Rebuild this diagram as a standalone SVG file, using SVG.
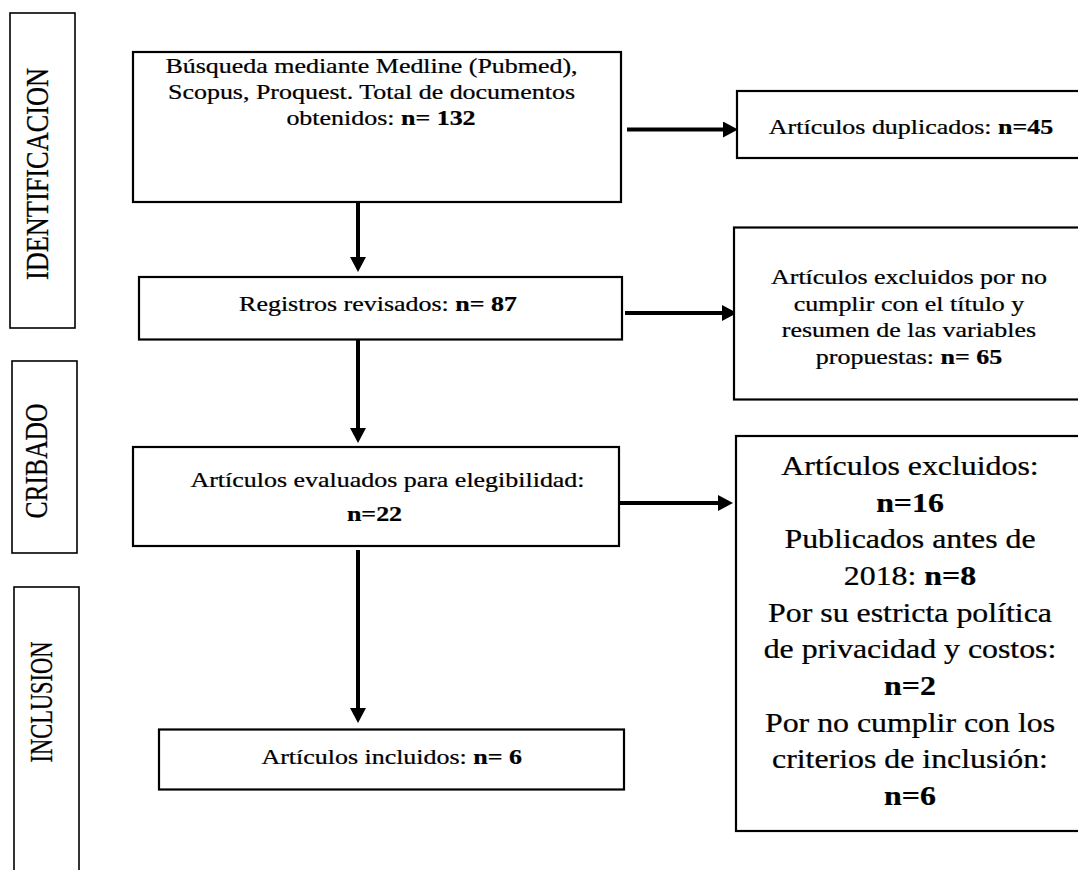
<svg xmlns="http://www.w3.org/2000/svg" width="1078" height="870" viewBox="0 0 1078 870">
  <style>
    text { fill: #000; stroke: #000; stroke-width: 0.25; text-anchor: middle; }
    .s { font-size: 22px; }
    .l { font-size: 27px; }
    .side { font-size: 26px; }
    .b { font-weight: bold; }
    .box { fill: #fff; stroke: #000; stroke-width: 2.2; }
    .sbox { fill: #fff; stroke: #000; stroke-width: 1.6; }
    .conn { stroke: #000; stroke-width: 4; fill: none; marker-end: url(#ah); }
  </style>
  <defs>
    <marker id="ah" markerUnits="userSpaceOnUse" markerWidth="16" markerHeight="18" refX="0" refY="8" orient="auto">
      <path d="M0,0 L15,8 L0,16 Z" fill="#000"/>
    </marker>
  </defs>
  <rect width="1078" height="870" fill="#fff"/>

  <g font-family="Liberation Serif, serif">
  <g id="stage-identificacion">
    <rect class="sbox" x="10" y="13" width="65" height="315"/>
    <text class="side" transform="translate(48,174) scale(1.18,1) rotate(-90)" textLength="212" lengthAdjust="spacingAndGlyphs">IDENTIFICACION</text>
  </g>
  <g id="stage-cribado">
    <rect class="sbox" x="12" y="361" width="65" height="192"/>
    <text class="side" transform="translate(46.5,461) scale(1.18,1) rotate(-90)" textLength="115" lengthAdjust="spacingAndGlyphs">CRIBADO</text>
  </g>
  <g id="stage-inclusion">
    <rect class="sbox" x="14" y="587" width="65" height="300"/>
    <text class="side" transform="translate(51.5,702) scale(1.18,1) rotate(-90)" textLength="121" lengthAdjust="spacingAndGlyphs">INCLUSION</text>
  </g>

  <g id="connectors">
    <line class="conn" x1="627" y1="129.5" x2="723" y2="129.5"/>
    <line class="conn" x1="358" y1="202" x2="358" y2="257"/>
    <line class="conn" x1="625" y1="313" x2="722" y2="313"/>
    <line class="conn" x1="358" y1="340" x2="358" y2="428"/>
    <line class="conn" x1="619" y1="503" x2="718" y2="503"/>
    <line class="conn" x1="358" y1="550" x2="358" y2="708"/>
  </g>

  <g id="busqueda">
    <rect class="box" x="133" y="52" width="488" height="150"/>
    <text class="s" transform="translate(371.5,72.5) scale(1.18,1)">Búsqueda mediante Medline (Pubmed),</text>
    <text class="s" transform="translate(371.5,99) scale(1.18,1)">Scopus, Proquest. Total de documentos</text>
    <text class="s" transform="translate(381,125) scale(1.18,1)">obtenidos: <tspan class="b">n= 132</tspan></text>
  </g>

  <g id="duplicados">
    <rect class="box" x="737" y="91" width="345" height="67"/>
    <text class="s" transform="translate(911,134) scale(1.18,1)">Artículos duplicados: <tspan class="b">n=45</tspan></text>
  </g>

  <g id="registros">
    <rect class="box" x="139" y="277" width="483" height="62.5"/>
    <text class="s" transform="translate(378,311) scale(1.18,1)">Registros revisados: <tspan class="b">n= 87</tspan></text>
  </g>

  <g id="excluidos-titulo">
    <rect class="box" x="734" y="227.5" width="348" height="172"/>
    <text class="s" transform="translate(909,284) scale(1.18,1)">Artículos excluidos por no</text>
    <text class="s" transform="translate(909,310.5) scale(1.18,1)">cumplir con el título y</text>
    <text class="s" transform="translate(909,337) scale(1.18,1)">resumen de las variables</text>
    <text class="s" transform="translate(909,364) scale(1.18,1)">propuestas: <tspan class="b">n= 65</tspan></text>
  </g>

  <g id="evaluados">
    <rect class="box" x="133" y="447" width="486" height="99"/>
    <text class="s" transform="translate(387.5,487) scale(1.18,1)">Artículos evaluados para elegibilidad:</text>
    <text class="s b" transform="translate(374.5,521) scale(1.18,1)">n=22</text>
  </g>

  <g id="excluidos-final">
    <rect class="box" x="736" y="436" width="346" height="395"/>
    <text class="l" transform="translate(910,475) scale(1.18,1)">Artículos excluidos:</text>
    <text class="l b" transform="translate(910,511.7) scale(1.18,1)">n=16</text>
    <text class="l" transform="translate(910,548.3) scale(1.18,1)">Publicados antes de</text>
    <text class="l" transform="translate(910,585) scale(1.18,1)">2018: <tspan class="b">n=8</tspan></text>
    <text class="l" transform="translate(910,621.7) scale(1.18,1)">Por su estricta política</text>
    <text class="l" transform="translate(910,658.3) scale(1.18,1)">de privacidad y costos:</text>
    <text class="l b" transform="translate(910,695) scale(1.18,1)">n=2</text>
    <text class="l" transform="translate(910,731.7) scale(1.18,1)">Por no cumplir con los</text>
    <text class="l" transform="translate(910,768.3) scale(1.18,1)">criterios de inclusión:</text>
    <text class="l b" transform="translate(910,805) scale(1.18,1)">n=6</text>
  </g>

  <g id="incluidos">
    <rect class="box" x="159" y="729.5" width="465" height="60"/>
    <text class="s" transform="translate(391.7,764) scale(1.18,1)">Artículos incluidos: <tspan class="b">n= 6</tspan></text>
  </g>
  </g>
</svg>
